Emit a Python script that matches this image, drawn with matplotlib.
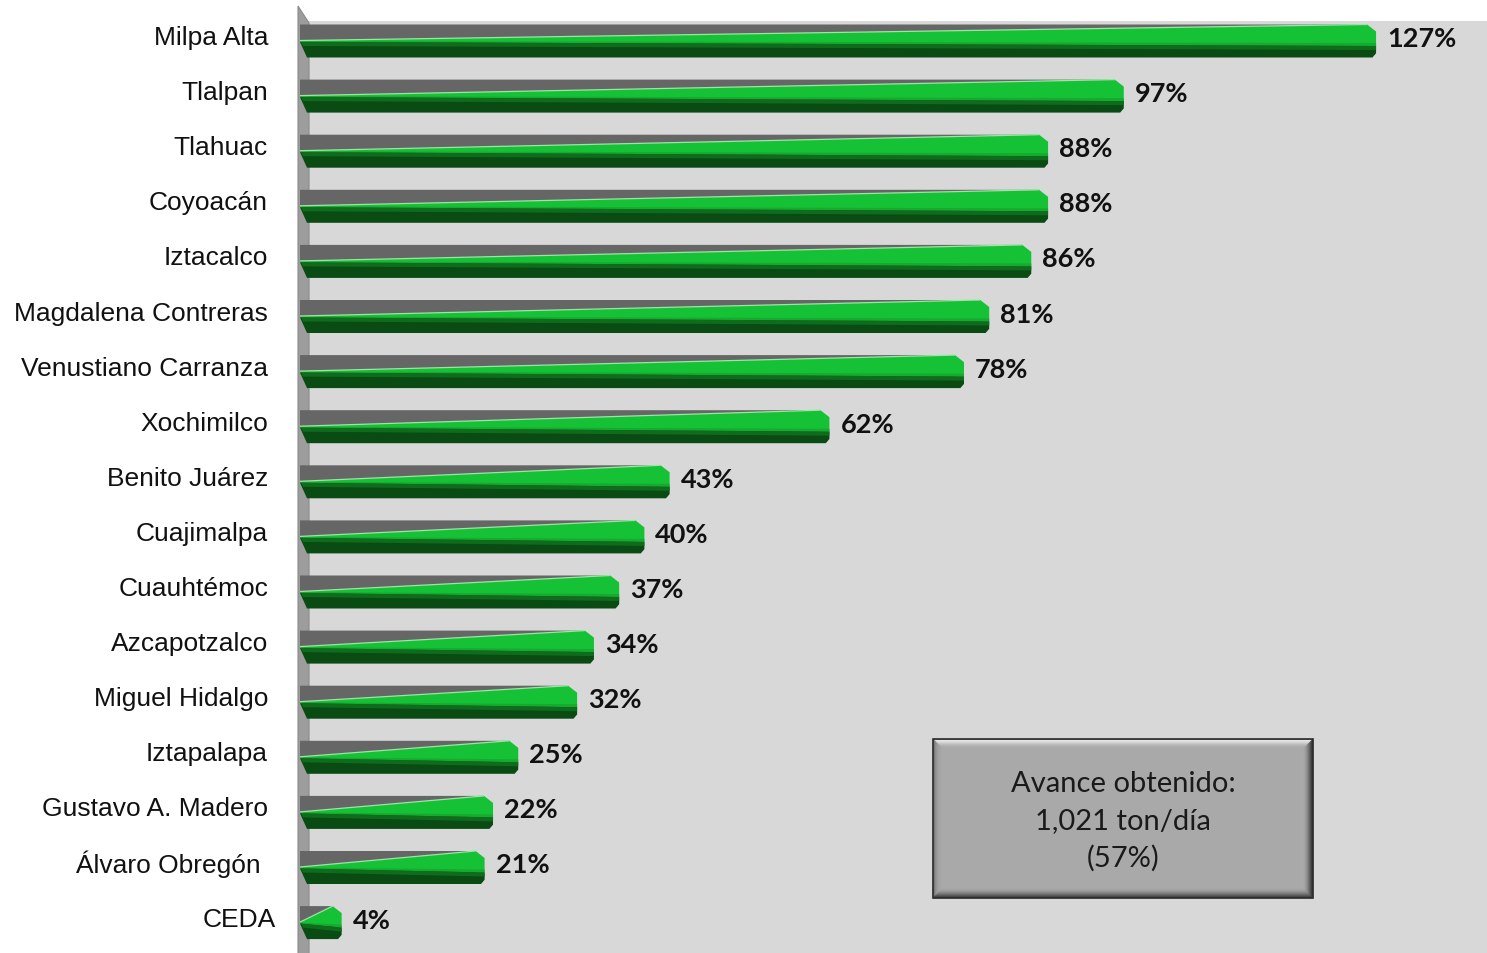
import matplotlib
matplotlib.use('Agg')
import matplotlib.pyplot as plt
from matplotlib.patches import Polygon
import matplotlib.transforms as mtransforms

# ---------------- data ----------------
categories = ["Milpa Alta", "Tlalpan", "Tlahuac", "Coyoacán", "Iztacalco",
              "Magdalena Contreras", "Venustiano Carranza", "Xochimilco",
              "Benito Juárez", "Cuajimalpa", "Cuauhtémoc", "Azcapotzalco",
              "Miguel Hidalgo", "Iztapalapa", "Gustavo A. Madero",
              "Álvaro Obregón", "CEDA"]
values = [127, 97, 88, 88, 86, 81, 78, 62, 43, 40, 37, 34, 32, 25, 22, 21, 4]
value_labels = [f"{v}%" for v in values]
summary_lines = ["Avance obtenido:", "1,021 ton/día", "(57%)"]

# ---------------- layout ----------------
W, H = 1487, 954
fig = plt.figure(figsize=(W / 100, H / 100), dpi=100)
fig.patch.set_facecolor('white')

ax_left, ax_top = 300, 22
ax = fig.add_axes([ax_left / W, 0, (W - ax_left) / W, (H - ax_top) / H])
ax.set_facecolor('#d9d8d9')

pxu = 8.41          # pixels per percent unit
zero_px = 308
x0 = (ax_left - zero_px) / pxu
ax.set_xlim(x0, x0 + (W - ax_left) / pxu)

sp = 55.1           # pixels per category
first_c = 42
ax.set_ylim((H - first_c) / sp, -(first_c - ax_top) / sp)

for s in ax.spines.values():
    s.set_visible(False)
ax.set_xticks([])
ax.set_yticks(range(len(categories)))
ax.set_yticklabels(categories, family='Liberation Sans', fontsize=19, color='#111111')
ax.tick_params(axis='y', length=0, pad=23)
label_dx = {"Álvaro Obregón": -7, "CEDA": 8}   # small horizontal nudges (px)
for lab in ax.get_yticklabels():
    lab.set_verticalalignment('center')
    dx = label_dx.get(lab.get_text(), 0)
    off = mtransforms.ScaledTranslation(dx / 100, 4 / 100, fig.dpi_scale_trans)
    lab.set_transform(lab.get_transform() + off)

# ---------------- wall ----------------
wall = Polygon([(-10 / pxu, (7 - first_c) / sp), (1 / pxu, (24 - first_c) / sp),
                (1 / pxu, (H - first_c) / sp + 1), (-10 / pxu, (H - first_c) / sp + 1)],
               closed=True, facecolor='#9d9d9d', edgecolor='#8a8a8a', lw=0.8,
               clip_on=False, zorder=1)
ax.add_patch(wall)

# ---------------- bars ----------------
py = 1 / sp
cx = 9 / pxu
cy = 7 * py
for i, v in enumerate(values):
    c = i
    ytop = c - 16.5 * py
    ybot = c + 16.5 * py
    yml = c + 1 * py          # bright/dark boundary at left end
    ymr = c + 5 * py          # bright/dark boundary at right end
    xe = v
    # grey top face
    ax.add_patch(Polygon([(x0, ytop), (xe - cx, ytop), (xe - cx, ymr), (x0, yml)],
                         closed=True, facecolor='#666666', edgecolor='none', zorder=2))
    # bright green sloped face
    ax.add_patch(Polygon([(x0, yml - 1.5 * py), (xe - cx, ytop), (xe, ytop + cy),
                          (xe, ymr), (x0, yml)],
                         closed=True, facecolor='#16c235', edgecolor='none', zorder=3))
    # lower shade of the bright face
    ax.add_patch(Polygon([(x0, yml - 1.0 * py), (xe, ymr - 3 * py), (xe, ymr), (x0, yml)],
                         closed=True, facecolor='#14ab2e', edgecolor='none', zorder=3))
    # light edge line
    ax.plot([x0, xe - cx], [yml - 1.5 * py, ytop], color='#9fe3a8', lw=0.9, zorder=4,
            solid_capstyle='butt')
    # dark green front face
    ax.add_patch(Polygon([(x0, yml), (xe, ymr), (xe, ybot - cy * 0.6),
                          (xe - cx * 0.4, ybot), (x0 + 7 / pxu, ybot)],
                         closed=True, facecolor='#094b12', edgecolor='none', zorder=3))
    ax.add_patch(Polygon([(x0 + 1 / pxu, yml), (xe, ymr), (xe, ymr + 4 * py),
                          (x0 + 3 / pxu, yml + 4 * py)],
                         closed=True, facecolor='#0f6c1c', edgecolor='none', zorder=3))
    # value label
    ax.text(xe + 11 / pxu, c - 3 * py, value_labels[i], family='Lato', weight='bold',
            fontsize=19.5, color='#111111', ha='left', va='center', zorder=5)

# ---------------- summary box ----------------
pix = mtransforms.Affine2D().scale(1 / W, -1 / H).translate(0, 1) + fig.transFigure
bx0, by0, bx1, by1, b = 933, 740, 1313, 899, 10
edge_cols = {
    'top': ['#6a6a6a', '#e6e6e6', '#e0e0e0', '#d6d6d6', '#cacaca', '#bebebe',
            '#b6b6b6', '#b0b0b0', '#acacac', '#aaaaaa'],
    'left': ['#5a5a5a', '#7a7a7a', '#888888', '#939393', '#9b9b9b', '#a0a0a0',
             '#a4a4a4', '#a6a6a6', '#a8a8a8', '#a9a9a9'],
    'right': ['#2a2a2a', '#3c3c3c', '#4e4e4e', '#606060', '#727272', '#828282',
              '#909090', '#9a9a9a', '#a2a2a2', '#a7a7a7'],
    'bottom': ['#303030', '#454545', '#575757', '#686868', '#787878', '#868686',
               '#929292', '#9c9c9c', '#a3a3a3', '#a7a7a7'],
}
for k in range(b):
    a0, a1 = k, k + 1
    X0, Y0, X1, Y1 = bx0 + a0, by0 + a0, bx1 - a0, by1 - a0
    x0i, y0i, x1i, y1i = bx0 + a1, by0 + a1, bx1 - a1, by1 - a1
    rings = [
        ([(X0, Y0), (X1, Y0), (x1i, y0i), (x0i, y0i)], edge_cols['top'][k]),
        ([(X0, Y0), (x0i, y0i), (x0i, y1i), (X0, Y1)], edge_cols['left'][k]),
        ([(X0, Y1), (x0i, y1i), (x1i, y1i), (X1, Y1)], edge_cols['bottom'][k]),
        ([(X1, Y0), (x1i, y0i), (x1i, y1i), (X1, Y1)], edge_cols['right'][k]),
    ]
    for pts, col in rings:
        fig.add_artist(Polygon(pts, closed=True, facecolor=col, edgecolor=col, lw=0.3,
                               transform=pix, zorder=10))
fig.add_artist(Polygon([(bx0 + b, by0 + b), (bx1 - b, by0 + b), (bx1 - b, by1 - b),
                        (bx0 + b, by1 - b)], closed=True, facecolor='#a9a9a9',
                       edgecolor='none', transform=pix, zorder=10))
fig.add_artist(Polygon([(bx0, by0), (bx1, by0), (bx1, by1), (bx0, by1)], closed=True,
                       facecolor='none', edgecolor='#2e2e2e', lw=1.2, transform=pix,
                       zorder=11))
fig.text((bx0 + bx1) / 2, (by0 + by1) / 2 + 2, "\n".join(summary_lines), transform=pix,
         family='Lato', fontsize=21, color='#1a1a1a', ha='center', va='center',
         linespacing=1.5, zorder=12)

fig.savefig('out.png', dpi=100)
